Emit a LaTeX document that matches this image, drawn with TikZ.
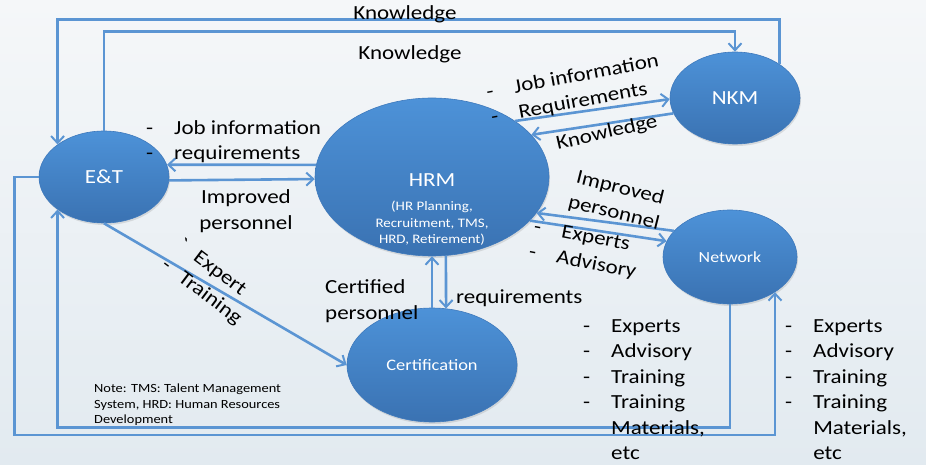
\documentclass[tikz,border=0pt]{standalone}
\usepackage{fontspec}
\setmainfont{Carlito}[FakeStretch=1.15]
\usetikzlibrary{shapes.geometric,arrows.meta,shadows}
\definecolor{lnk}{HTML}{5B95D3}
\definecolor{ellT}{HTML}{4D92D8}
\definecolor{ellB}{HTML}{3A72B2}
\definecolor{ellE}{HTML}{3E79BC}
\definecolor{bgT}{HTML}{F5F7F9}
\definecolor{bgB}{HTML}{E2EAF0}
\newcommand{\mylist}{\vbox{\baselineskip=25.5pt\halign{##\hfil\hskip21pt&##\hfil\cr
  -&Experts\cr -&Advisory\cr -&Training\cr -&Training\cr &Materials,\cr &etc\cr}}}
\begin{document}
\begin{tikzpicture}[x=1pt,y=-1pt,
  bubble/.style={ellipse, inner sep=0pt, top color=ellT, bottom color=ellB,
    draw=ellE, line width=0.6pt, text=white, font=\fontsize{20}{24}\selectfont,
    drop shadow={opacity=0.22, shadow xshift=1pt, shadow yshift=-2pt}},
  link/.style={draw=lnk, line width=2.6pt,
    -{Straight Barb[length=7pt,width=13pt,line width=2pt]}},
  lbl/.style={font=\fontsize{20}{25.5}\selectfont, inner sep=0pt, text=black},
  inner/.style={text=white, inner sep=0pt},
]
\useasboundingbox (0,0) rectangle (926,465);
\fill[top color=bgT, bottom color=bgB] (0,0) rectangle (926,465);

% nodes
\node[bubble, minimum width=130pt, minimum height=92pt] (ET) at (104,177) {E\&T};
\node[bubble, minimum width=234pt, minimum height=158pt] (HRM) at (432,177) {};
\node[inner, align=center, font=\fontsize{13}{16.5}\selectfont] (hrmtext) at (432,209.5)
  {{\fontsize{20}{24}\selectfont HRM}\\[8pt](HR Planning,\\Recruitment, TMS,\\HRD, Retirement)};
\node[bubble, minimum width=130pt, minimum height=92pt] (NKM) at (735,98) {NKM};
\node[bubble, minimum width=134pt, minimum height=94pt, font=\fontsize{15.5}{18}\selectfont] (NET) at (730,257) {Network};
\node[bubble, minimum width=170pt, minimum height=114pt, font=\fontsize{16}{19}\selectfont] (CERT) at (432,365) {Certification};

% connectors
\draw[link] (NKM.37) -- ++(0,-44.5) -| (ET.145);
\draw[link] (ET.north) -- ++(0,-99) -| (NKM.north);
\draw[link] (HRM.174) -- (ET.11);
\draw[link] (ET.357) -- (HRM.181.5);
\draw[link] (HRM.34) -- (NKM.181);
\draw[link] (NKM.194) -- (HRM.23);
\draw[link] (NET.155) -- (HRM.341);
\draw[link] (HRM.336) -- (NET.166);
\draw[link] (ET.south) -- (CERT.west);
\draw[link] (CERT.north) -- (HRM.south);
\draw[link] (HRM.280) -- (CERT.76);
\draw[link] (NET.south) -- ++(0,123) -| (ET.215);
\draw[link] (ET.west) -- ++(-24,0) -- ++(0,258) -| (NET.322);

% labels
\node[lbl] (kn1) at (405,14) {Knowledge};
\node[lbl] (kn2) at (410,54) {Knowledge};
\node[lbl, anchor=west] (jobinfo) at (146,142)
  {\begin{tabular}{@{}l@{\hspace{21pt}}l@{}}-&Job information\\-&requirements\end{tabular}};
\node[lbl, align=center] (imp1) at (246,211) {Improved\\personnel};
\node[lbl, rotate=10.5] (jobinfo2) at (575,90)
  {\begin{tabular}{@{}l@{\hspace{21pt}}l@{}}-&Job information\\-&Requirements\end{tabular}};
\node[lbl, rotate=13] (kn3) at (607,133) {Knowledge};
\node[lbl, align=center, rotate=-14] (imp2) at (617,201) {Improved\\personnel};
\node[lbl, rotate=-11] (expadv) at (585,250)
  {\begin{tabular}{@{}l@{\hspace{21pt}}l@{}}-&Experts\\-&Advisory\end{tabular}};
\node[lbl, rotate=-37] (exptr) at (209,282)
  {\begin{tabular}{@{}l@{\hspace{14pt}}l@{}}\textasciigrave&Expert\\-&Training\end{tabular}};
\node[lbl, anchor=west, align=left] (certp) at (325,301) {Certified\\personnel};
\node[lbl, anchor=west] (req) at (456,298) {requirements};
\node[lbl, anchor=south west] (list1) at (583,460) {\mylist};
\node[lbl, anchor=south west] (list2) at (785,460) {\mylist};
\node[lbl, anchor=west, align=left, font=\fontsize{12.5}{15.5}\selectfont] (note) at (94,405)
  {Note: TMS: Talent Management\\System, HRD: Human Resources\\Development};
\end{tikzpicture}
\end{document}
